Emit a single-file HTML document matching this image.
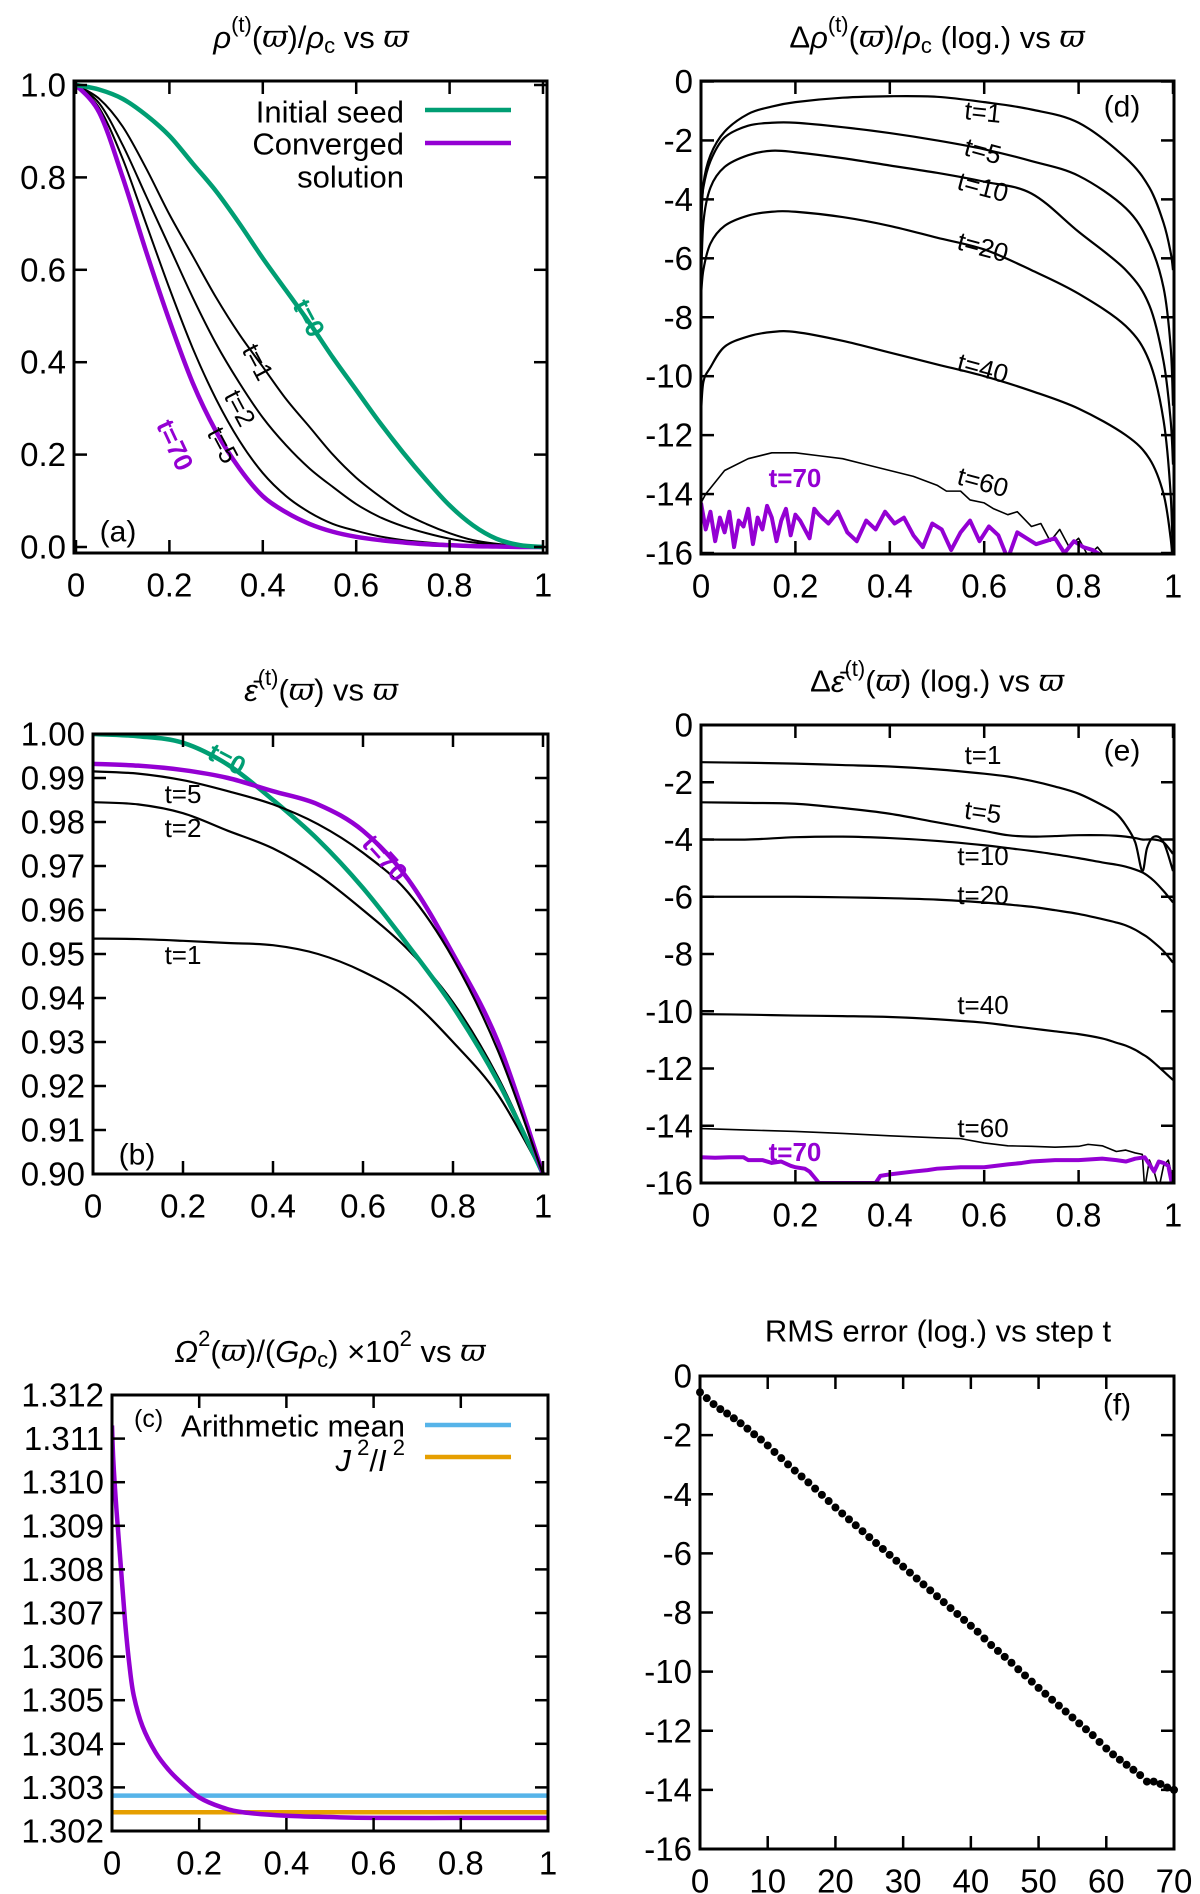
<!DOCTYPE html>
<html><head><meta charset="utf-8"><style>
html,body{margin:0;padding:0;background:#fff;}
svg{display:block;font-family:"Liberation Sans",sans-serif;}
</style></head><body>
<svg id="fig" width="1200" height="1894" viewBox="0 0 1200 1894" xmlns="http://www.w3.org/2000/svg">
<rect width="1200" height="1894" fill="#fff"/>
</svg>
<script>
// ---------- data ----------
const xA = [0,.05,.1,.15,.2,.25,.3,.35,.4,.45,.5,.55,.6,.65,.7,.75,.8,.85,.9,.95,1];
const aT0 = [1,.99,.97,.935,.89,.83,.77,.70,.625,.555,.485,.41,.34,.27,.205,.145,.09,.047,.018,.004,0];
const aT1 = [1,.97,.91,.82,.72,.63,.54,.46,.39,.32,.26,.20,.15,.11,.075,.05,.03,.015,.007,.002,0];
const aT2 = [1,.96,.87,.76,.65,.54,.44,.355,.28,.22,.17,.13,.093,.065,.045,.03,.018,.01,.005,.002,0];
const aT5 = [1,.95,.84,.70,.56,.43,.32,.23,.16,.11,.075,.05,.035,.023,.015,.01,.006,.003,.002,.001,0];
const aT70 = [1,.94,.80,.64,.49,.355,.25,.17,.11,.075,.05,.033,.022,.015,.01,.006,.004,.002,.001,0,0];

const xD = [0,.005,.02,.05,.1,.15,.2,.3,.4,.5,.6,.7,.8,.9,.95,.98,.995,1];
const dT1 = [-5.2,-3.5,-2.5,-1.7,-1.1,-.85,-.7,-.55,-.5,-.52,-.7,-.95,-1.4,-2.6,-3.6,-4.8,-5.8,-6.4];
const dT5 = [-4.5,-3.6,-2.7,-1.9,-1.5,-1.4,-1.4,-1.55,-1.75,-2.0,-2.3,-2.7,-3.2,-4.3,-5.5,-7,-9,-11];
const dT10 = [-7,-4.8,-3.6,-2.9,-2.5,-2.35,-2.4,-2.6,-2.85,-3.1,-3.4,-3.8,-5.1,-6.4,-7.6,-9.5,-11.5,-13];
const dT20 = [-7.3,-6.4,-5.5,-4.9,-4.55,-4.42,-4.42,-4.6,-4.9,-5.3,-5.7,-6.4,-7.2,-8.3,-9.5,-11.5,-14,-16.5];
const dT40 = [-11.3,-10.2,-9.7,-9.0,-8.65,-8.5,-8.5,-8.8,-9.2,-9.6,-10.0,-10.5,-11.1,-12.0,-12.8,-14,-15.5,-16.5];
const xD60 = [0,.01,.02,.05,.1,.15,.2,.25,.3,.35,.4,.45,.5,.52,.55,.57,.6,.62,.65,.67,.7,.72,.74,.76,.78,.8,.82,.84,.86];
const dT60 = [-14.3,-14.0,-13.8,-13.2,-12.8,-12.6,-12.6,-12.7,-12.8,-13.0,-13.2,-13.4,-13.7,-13.9,-13.9,-14.2,-14.3,-14.5,-14.7,-14.6,-15.1,-15.0,-15.6,-15.2,-15.8,-15.5,-16.1,-15.8,-16.2];
const xD70 = [0,.01,.02,.03,.04,.05,.06,.07,.08,.09,.1,.11,.12,.13,.14,.15,.16,.17,.18,.19,.2,.21,.22,.23,.24,.25,.27,.29,.31,.33,.35,.37,.39,.41,.43,.45,.47,.49,.51,.53,.55,.57,.59,.61,.63,.65,.67,.69,.71,.73,.75,.77,.79,.81,.83,.85];
const dT70 = [-14.3,-15.2,-14.6,-15.6,-14.8,-15.3,-14.6,-15.8,-14.9,-15.1,-14.5,-15.7,-14.8,-15.2,-14.4,-14.8,-15.6,-14.9,-14.5,-15.4,-14.7,-14.9,-15.2,-15.5,-14.5,-14.7,-15.0,-14.6,-15.3,-15.6,-14.9,-15.2,-14.6,-15.0,-14.8,-15.4,-15.8,-15.0,-15.2,-15.9,-15.3,-14.9,-15.6,-15.1,-15.4,-16.2,-15.3,-15.5,-15.7,-15.6,-15.5,-16.0,-15.6,-15.8,-15.9,-16.1];

const xB = [0,.1,.2,.3,.4,.5,.6,.7,.8,.9,1];
const bT0 = [1.0,.9995,.998,.993,.985,.976,.965,.952,.938,.921,.90];
const bT1 = [.9535,.9534,.953,.9525,.952,.950,.946,.940,.930,.918,.90];
const bT2 = [.9845,.984,.982,.978,.974,.968,.960,.951,.939,.922,.90];
const bT5 = [.9915,.991,.9895,.987,.984,.9795,.973,.964,.949,.928,.90];
const bT70 = [.9932,.9928,.9918,.990,.987,.984,.978,.967,.950,.930,.90];

const xE = [0,.1,.2,.3,.4,.5,.6,.65,.7,.75,.8,.85,.88,.9,.92,.935,.945,.96,.98,1];
const eT1 = [-1.3,-1.32,-1.35,-1.4,-1.45,-1.55,-1.7,-1.8,-1.95,-2.15,-2.4,-2.8,-3.1,-3.5,-4.1,-5.1,-4.3,-3.9,-4.1,-5.1];
const eT5 = [-2.7,-2.72,-2.75,-2.9,-3.1,-3.4,-3.7,-3.85,-3.9,-3.88,-3.85,-3.85,-3.87,-3.9,-3.95,-4.0,-4.0,-4.0,-4.1,-4.5];
const eT10 = [-4.0,-4.0,-3.92,-3.9,-3.95,-4.05,-4.2,-4.3,-4.4,-4.52,-4.65,-4.8,-4.88,-4.95,-5.05,-5.15,-5.25,-5.45,-5.8,-6.2];
const eT20 = [-6.0,-6.0,-6.0,-6.02,-6.05,-6.1,-6.2,-6.27,-6.35,-6.47,-6.6,-6.78,-6.9,-7.0,-7.15,-7.3,-7.4,-7.6,-7.9,-8.3];
const eT40 = [-10.1,-10.12,-10.15,-10.17,-10.2,-10.28,-10.4,-10.5,-10.6,-10.7,-10.8,-10.95,-11.1,-11.2,-11.35,-11.5,-11.6,-11.8,-12.1,-12.4];
const xE60 = [0,.1,.2,.3,.4,.5,.55,.6,.65,.7,.75,.8,.82,.85,.88,.9,.92,.935,.94,.95,.96,.97,.98,.99,1];
const eT60 = [-14.1,-14.15,-14.2,-14.27,-14.35,-14.42,-14.45,-14.6,-14.7,-14.72,-14.75,-14.72,-14.65,-14.7,-14.9,-14.85,-14.95,-15.0,-16.2,-15.2,-15.6,-16.2,-15.4,-15.2,-15.9];
const xE70 = [0,.03,.06,.09,.1,.13,.15,.17,.19,.2,.22,.23,.24,.25,.26,.33,.37,.38,.4,.45,.48,.5,.55,.6,.65,.68,.7,.75,.8,.85,.88,.9,.92,.94,.95,.96,.97,.98,.99,1];
const eT70 = [-15.1,-15.12,-15.1,-15.1,-15.2,-15.2,-15.3,-15.25,-15.4,-15.45,-15.5,-15.6,-15.8,-16.0,-16.0,-16.0,-16.0,-15.75,-15.7,-15.6,-15.55,-15.5,-15.45,-15.45,-15.35,-15.3,-15.25,-15.2,-15.2,-15.15,-15.2,-15.25,-15.15,-15.1,-15.35,-15.6,-15.25,-15.3,-15.4,-16.2];

const xC = [0,.003,.01,.02,.03,.04,.05,.07,.1,.13,.16,.2,.25,.3,.4,.5,.6,.8,1];
const cOmega = [1.3113,1.3105,1.3094,1.3081,1.3068,1.3058,1.3051,1.3044,1.3038,1.3034,1.3031,1.30277,1.30255,1.30243,1.30235,1.30232,1.3023,1.3023,1.3023];
const cMean = [1.30281];
const cJI = [1.30243];

const fSteps = [];
for (let i = 0; i <= 70; i++) fSteps.push(i);
const fRms = [-0.55,-0.75,-0.95,-1.12,-1.27,-1.43,-1.6,-1.78,-1.97,-2.15,-2.35,-2.57,-2.78,-2.99,-3.2,-3.4,-3.6,-3.81,-4.02,-4.23,-4.45,-4.65,-4.85,-5.05,-5.25,-5.45,-5.65,-5.85,-6.05,-6.25,-6.45,-6.65,-6.85,-7.05,-7.25,-7.45,-7.65,-7.85,-8.05,-8.25,-8.45,-8.65,-8.88,-9.1,-9.3,-9.5,-9.7,-9.92,-10.13,-10.34,-10.55,-10.75,-10.95,-11.15,-11.35,-11.55,-11.75,-11.95,-12.15,-12.38,-12.6,-12.8,-12.98,-13.15,-13.32,-13.5,-13.72,-13.72,-13.8,-13.92,-14.0];

const ticksUnit = [0,0.2,0.4,0.6,0.8,1];
const ticksUnitLbl = ["0","0.2","0.4","0.6","0.8","1"];
const ticksA = [0,0.2,0.4,0.6,0.8,1.0];
const ticksALbl = ["0.0","0.2","0.4","0.6","0.8","1.0"];
const ticksLog = [0,-2,-4,-6,-8,-10,-12,-14,-16];
const ticksLogLbl = ["0","-2","-4","-6","-8","-10","-12","-14","-16"];
const ticksB = [.90,.91,.92,.93,.94,.95,.96,.97,.98,.99,1.00];
const ticksBLbl = ["0.90","0.91","0.92","0.93","0.94","0.95","0.96","0.97","0.98","0.99","1.00"];
const ticksC = [1.302,1.303,1.304,1.305,1.306,1.307,1.308,1.309,1.310,1.311,1.312];
const ticksCLbl = ["1.302","1.303","1.304","1.305","1.306","1.307","1.308","1.309","1.310","1.311","1.312"];
const ticksF = [0,10,20,30,40,50,60,70];
const ticksFLbl = ["0","10","20","30","40","50","60","70"];

// ---------- helpers ----------
const NS = "http://www.w3.org/2000/svg";
const svg = document.getElementById("fig");
const GREEN = "#009e73", PURPLE = "#9400d3", BLUE = "#56b4e9", ORANGE = "#e69f00";
const TICK_FS = 33, TITLE_FS = 31, LBL_FS = 26, SUP = 22;
function mk(tag, attrs, parent) {
  const e = document.createElementNS(NS, tag);
  for (const k in attrs) e.setAttribute(k, attrs[k]);
  (parent || svg).appendChild(e);
  return e;
}
function panel(id, fr, xd, xp, yd, yp) {
  const g = mk("g", {});
  
  
  const cp = mk("clipPath", {id: "clip-" + id}, g);
  mk("rect", {x: fr[0], y: fr[1], width: fr[2] - fr[0], height: fr[3] - fr[1]}, cp);
  const sx = v => xp[0] + (v - xd[0]) / (xd[1] - xd[0]) * (xp[1] - xp[0]);
  const sy = v => yp[0] + (v - yd[0]) / (yd[1] - yd[0]) * (yp[1] - yp[0]);
  const plot = mk("g", {"clip-path": "url(#clip-" + id + ")"}, g);
  return {g, plot, sx, sy, fr};
}
function smoothPath(P, xs, ys) {
  const pts = xs.map((x, i) => [P.sx(x), P.sy(ys[i])]);
  let d = "M" + pts[0][0].toFixed(2) + "," + pts[0][1].toFixed(2);
  for (let i = 0; i < pts.length - 1; i++) {
    const p0 = pts[Math.max(0, i - 1)], p1 = pts[i], p2 = pts[i + 1], p3 = pts[Math.min(pts.length - 1, i + 2)];
    const c1 = [p1[0] + (p2[0] - p0[0]) / 6, p1[1] + (p2[1] - p0[1]) / 6];
    const c2 = [p2[0] - (p3[0] - p1[0]) / 6, p2[1] - (p3[1] - p1[1]) / 6];
    d += "C" + c1[0].toFixed(2) + "," + c1[1].toFixed(2) + " " + c2[0].toFixed(2) + "," + c2[1].toFixed(2) + " " + p2[0].toFixed(2) + "," + p2[1].toFixed(2);
  }
  return d;
}
function linePath(P, xs, ys) {
  return xs.map((x, i) => (i ? "L" : "M") + P.sx(x).toFixed(2) + "," + P.sy(ys[i]).toFixed(2)).join("");
}
function curve(P, name, xs, ys, color, w, smooth) {
  const p = mk("path", {d: smooth ? smoothPath(P, xs, ys) : linePath(P, xs, ys), fill: "none", stroke: color, "stroke-width": w, "stroke-linejoin": "round"}, P.plot);
  
  
  return p;
}
function txt(parent, x, y, s, opts) {
  opts = opts || {};
  const t = mk("text", {x: x, y: y, "font-size": opts.size || TITLE_FS, fill: opts.fill || "#000", "text-anchor": opts.anchor || "middle", "dominant-baseline": "central"}, parent);
  if (opts.bold) t.setAttribute("font-weight", "bold");
  if (opts.rot) t.setAttribute("transform", "rotate(" + opts.rot + " " + x + " " + y + ")");
  if (opts.html) t.innerHTML = s; else t.textContent = s;
  return t;
}
function axes(P, xt, xl, yt, yl) {
  const [L, T, R, B] = P.fr;
  const g = P.g, tl = 13;
  xt.forEach((v, i) => {
    const x = P.sx(v);
    mk("line", {x1: x, y1: B, x2: x, y2: B - tl, stroke: "#000", "stroke-width": 2.5}, g);
    mk("line", {x1: x, y1: T, x2: x, y2: T + tl, stroke: "#000", "stroke-width": 2.5}, g);
    const t = txt(g, x, B + 32, xl[i], {size: TICK_FS});
    
    
  });
  yt.forEach((v, i) => {
    const y = P.sy(v);
    mk("line", {x1: L, y1: y, x2: L + tl, y2: y, stroke: "#000", "stroke-width": 2.5}, g);
    mk("line", {x1: R, y1: y, x2: R - tl, y2: y, stroke: "#000", "stroke-width": 2.5}, g);
    const t = txt(g, L - 8, y, yl[i], {size: TICK_FS, anchor: "end"});
    
    
  });
  const f = mk("rect", {x: L, y: T, width: R - L, height: B - T, fill: "none", stroke: "#000", "stroke-width": 3}, g);
  
  
}
function title(P, x, y, s) {
  const t = txt(P.g, x, y, s, {size: TITLE_FS, html: true});
  
  
}
function label(P, x, y, s, opts, name) {
  const t = txt(P.g, x, y, s, opts);
  
  
}
const VW = '<tspan font-family="DejaVu Serif, serif" font-style="italic">ϖ</tspan>';
// superscript followed by text that returns to baseline
const sup = (s, next) => '<tspan dy="-13" font-size="' + SUP + '">' + s + '</tspan><tspan dy="13">' + next + '</tspan>';
const sub = (s, next) => '<tspan dy="8" font-size="' + SUP + '">' + s + '</tspan><tspan dy="-8">' + next + '</tspan>';

// ---------- panel a ----------
const A = panel("a", [74, 81, 547, 553], [0, 1], [76, 543], [0, 1], [547, 85]);
curve(A, "curve-t1", xA, aT1, "#000", 2, true);
curve(A, "curve-t2", xA, aT2, "#000", 2, true);
curve(A, "curve-t5", xA, aT5, "#000", 2, true);
curve(A, "curve-t70", xA, aT70, PURPLE, 4.5, true);
curve(A, "curve-t0", xA, aT0, GREEN, 4.5, true);
axes(A, ticksUnit, ticksUnitLbl, ticksA, ticksALbl);
title(A, 311, 37, '<tspan font-style="italic">ρ</tspan>' + sup('(t)', '(') + VW + ')/<tspan font-style="italic">ρ</tspan>' + sub('c', ' vs ') + VW);
label(A, 404, 112, "Initial seed", {anchor: "end", size: TITLE_FS}, "legend-initial-seed");
label(A, 404, 144, "Converged", {anchor: "end", size: TITLE_FS}, "legend-converged");
label(A, 404, 177, "solution", {anchor: "end", size: TITLE_FS}, "legend-solution");
let lg = mk("line", {x1: 425, y1: 110, x2: 511, y2: 110, stroke: GREEN, "stroke-width": 4.5}, A.g);


lg = mk("line", {x1: 425, y1: 143, x2: 511, y2: 143, stroke: PURPLE, "stroke-width": 4.5}, A.g);


label(A, 309, 318, "t=0", {fill: GREEN, bold: true, size: LBL_FS, rot: 62}, "label-t0");
label(A, 258, 362, "t=1", {size: LBL_FS, rot: 62}, "label-t1");
label(A, 240, 408, "t=2", {size: LBL_FS, rot: 62}, "label-t2");
label(A, 223, 445, "t=5", {size: LBL_FS, rot: 62}, "label-t5");
label(A, 175, 445, "t=70", {fill: PURPLE, bold: true, size: LBL_FS, rot: 65}, "label-t70");
label(A, 118, 532, "(a)", {size: 30}, "panel-letter");

// ---------- panel d ----------
const D = panel("d", [701, 81, 1174, 554], [0, 1], [701, 1173], [0, -16], [81.5, 553]);
curve(D, "curve-t1", xD, dT1, "#000", 2.2, true);
curve(D, "curve-t5", xD, dT5, "#000", 2.2, true);
curve(D, "curve-t10", xD, dT10, "#000", 2.2, true);
curve(D, "curve-t20", xD, dT20, "#000", 2.2, true);
curve(D, "curve-t40", xD, dT40, "#000", 2.2, true);
curve(D, "curve-t60", xD60, dT60, "#000", 1.6, false);
curve(D, "curve-t70", xD70, dT70, PURPLE, 4, false);
axes(D, ticksUnit, ticksUnitLbl, ticksLog, ticksLogLbl);
title(D, 937, 37, 'Δ<tspan font-style="italic">ρ</tspan>' + sup('(t)', '(') + VW + ')/<tspan font-style="italic">ρ</tspan>' + sub('c', ' (log.) vs ') + VW);
label(D, 983, 112, "t=1", {size: LBL_FS, rot: 6}, "label-t1");
label(D, 983, 151, "t=5", {size: LBL_FS, rot: 15}, "label-t5");
label(D, 983, 187, "t=10", {size: LBL_FS, rot: 15}, "label-t10");
label(D, 983, 247, "t=20", {size: LBL_FS, rot: 15}, "label-t20");
label(D, 983, 368, "t=40", {size: LBL_FS, rot: 15}, "label-t40");
label(D, 983, 482, "t=60", {size: LBL_FS, rot: 15}, "label-t60");
label(D, 795, 478, "t=70", {fill: PURPLE, bold: true, size: LBL_FS}, "label-t70");
label(D, 1122, 107, "(d)", {size: 30}, "panel-letter");

// ---------- panel b ----------
const Bp = panel("b", [93, 734, 548, 1174], [0, 1], [93, 543], [1.0, 0.9], [734, 1174]);
curve(Bp, "curve-t1", xB, bT1, "#000", 2.2, true);
curve(Bp, "curve-t2", xB, bT2, "#000", 2.2, true);
curve(Bp, "curve-t0", xB, bT0, GREEN, 4.5, true);
curve(Bp, "curve-t70", xB, bT70, PURPLE, 4.5, true);
curve(Bp, "curve-t5", xB, bT5, "#000", 2.2, true);
axes(Bp, ticksUnit, ticksUnitLbl, ticksB, ticksBLbl);
title(Bp, 321, 690, '<tspan font-style="italic">ε̄</tspan>' + sup('(t)', '(') + VW + ') vs ' + VW);
label(Bp, 227, 759, "t=0", {fill: GREEN, bold: true, size: LBL_FS, rot: 28}, "label-t0");
label(Bp, 183, 794, "t=5", {size: LBL_FS}, "label-t5");
label(Bp, 183, 828, "t=2", {size: LBL_FS}, "label-t2");
label(Bp, 183, 955, "t=1", {size: LBL_FS}, "label-t1");
label(Bp, 385, 858, "t=70", {fill: PURPLE, bold: true, size: LBL_FS, rot: 48}, "label-t70");
label(Bp, 137, 1155, "(b)", {size: 30}, "panel-letter");

// ---------- panel e ----------
const E = panel("e", [701, 725, 1174, 1183], [0, 1], [701, 1173], [0, -16], [725, 1183]);
curve(E, "curve-t1", xE, eT1, "#000", 2.2, true);
curve(E, "curve-t5", xE, eT5, "#000", 2.2, true);
curve(E, "curve-t10", xE, eT10, "#000", 2.2, true);
curve(E, "curve-t20", xE, eT20, "#000", 2.2, true);
curve(E, "curve-t40", xE, eT40, "#000", 2.2, true);
curve(E, "curve-t60", xE60, eT60, "#000", 1.6, false);
curve(E, "curve-t70", xE70, eT70, PURPLE, 4, false);
axes(E, ticksUnit, ticksUnitLbl, ticksLog, ticksLogLbl);
title(E, 937, 681, 'Δ<tspan font-style="italic">ε̄</tspan>' + sup('(t)', '(') + VW + ') (log.) vs ' + VW);
label(E, 983, 755, "t=1", {size: LBL_FS}, "label-t1");
label(E, 983, 812, "t=5", {size: LBL_FS, rot: 8}, "label-t5");
label(E, 983, 856, "t=10", {size: LBL_FS}, "label-t10");
label(E, 983, 895, "t=20", {size: LBL_FS}, "label-t20");
label(E, 983, 1005, "t=40", {size: LBL_FS}, "label-t40");
label(E, 983, 1128, "t=60", {size: LBL_FS}, "label-t60");
label(E, 795, 1152, "t=70", {fill: PURPLE, bold: true, size: LBL_FS}, "label-t70");
label(E, 1122, 751, "(e)", {size: 30}, "panel-letter");

// ---------- panel c ----------
const C = panel("c", [112, 1395, 548, 1831], [0, 1], [112, 548], [1.312, 1.302], [1395, 1831]);
curve(C, "line-arithmetic-mean", [0, 1], [cMean[0], cMean[0]], BLUE, 4.5, false);
curve(C, "line-j2-i2", [0, 1], [cJI[0], cJI[0]], ORANGE, 4.5, false);
curve(C, "curve-omega2", xC, cOmega, PURPLE, 4.5, true);
axes(C, ticksUnit, ticksUnitLbl, ticksC, ticksCLbl);
title(C, 330, 1351, '<tspan font-style="italic">Ω</tspan>' + sup('2', '(') + VW + ')/(<tspan font-style="italic">Gρ</tspan>' + sub('c', ') ×10') + sup('2', ' vs ') + VW);
label(C, 134, 1419, "(c)", {size: 25, anchor: "start"}, "panel-letter");
label(C, 405, 1426, "Arithmetic mean", {size: TITLE_FS, anchor: "end"}, "legend-arithmetic-mean");
label(C, 405, 1460, '<tspan font-style="italic">J</tspan>' + sup(' 2', '/') + '<tspan font-style="italic">I</tspan><tspan dy="-13" font-size="' + SUP + '"> 2</tspan>', {size: TITLE_FS, anchor: "end", html: true}, "legend-j2-i2");
lg = mk("line", {x1: 425, y1: 1425, x2: 511, y2: 1425, stroke: BLUE, "stroke-width": 4.5}, C.g);


lg = mk("line", {x1: 425, y1: 1457, x2: 511, y2: 1457, stroke: ORANGE, "stroke-width": 4.5}, C.g);



// ---------- panel f ----------
const F = panel("f", [700, 1376, 1174, 1849], [0, 70], [700, 1174], [0, -16], [1376, 1849]);
axes(F, ticksF, ticksFLbl, ticksLog, ticksLogLbl);
fSteps.forEach((s, i) => {
  const c = mk("circle", {cx: F.sx(s), cy: F.sy(fRms[i]), r: 4, fill: "#000"}, F.g);
  
  
});
title(F, 938, 1331, "RMS error (log.) vs step t");
label(F, 1117, 1405, "(f)", {size: 30}, "panel-letter");
</script>
</body></html>
